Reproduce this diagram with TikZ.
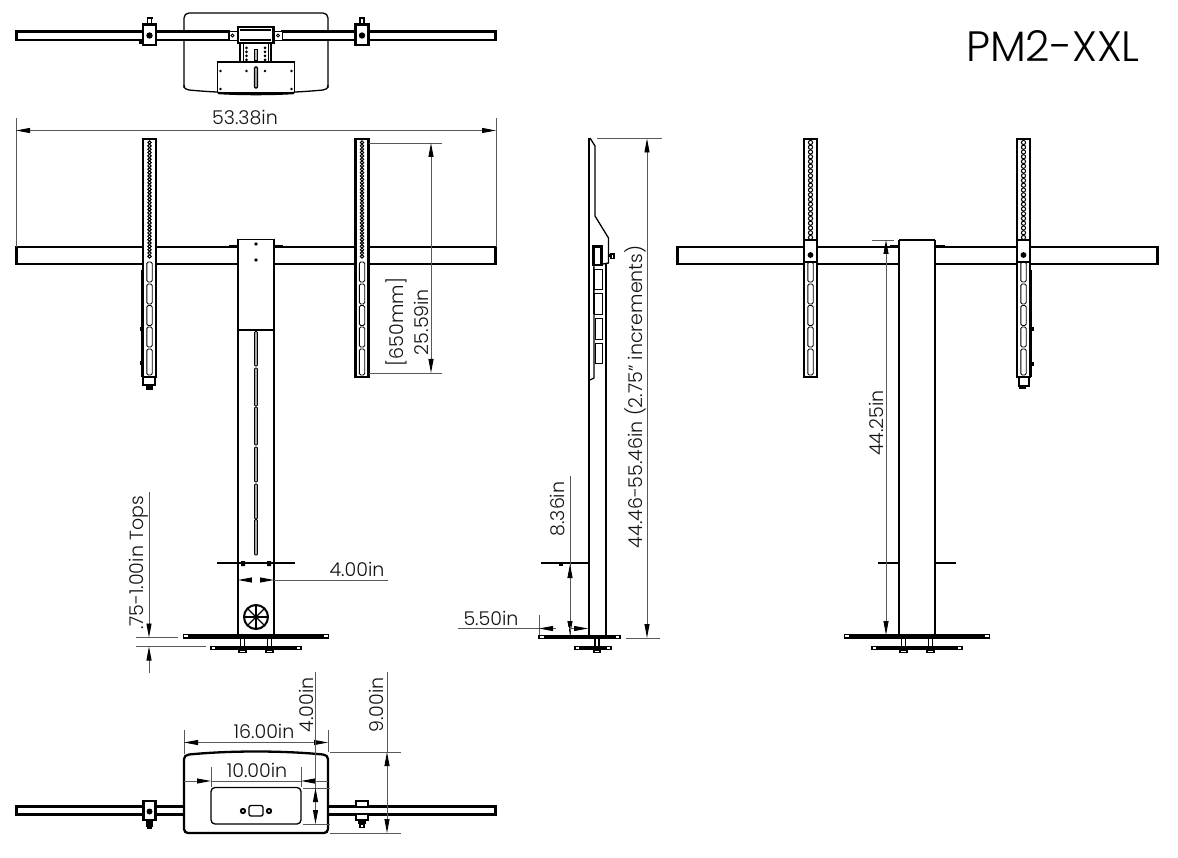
\documentclass[tikz,border=0pt]{standalone}
\usepackage{fontspec}
\setmainfont{Poppins}[UprightFont=* Light]
\usetikzlibrary{arrows.meta}
\tikzset{
  obj/.style={draw=black,line width=2.3pt},
  objm/.style={draw=black,line width=1.3pt},
  objt/.style={draw=black,line width=.9pt},
  dimline/.style={draw=black!65,line width=.9pt},
  dimarrow/.style={dimline,{Triangle[length=14pt,width=5pt,color=black]}-{Triangle[length=14pt,width=5pt,color=black]}},
  endarrow/.style={dimline,-{Triangle[length=14pt,width=5pt,color=black]}},
  lab/.style={inner sep=0pt,font=\fontsize{19pt}{21pt}\selectfont,text=black!92},
  vlab/.style={lab,rotate=90},
}
\newcommand{\pmRailBody}[1]{%
  \fill[white] (#1-6.5,139) rectangle (#1+6.5,377);
  \draw[obj] (#1-6.5,139) rectangle (#1+6.5,377);
  \foreach \a/\b in {262/282,284/304,305.5/325.5,327/347,349/375}{
    \draw[objt,rounded corners=1.5pt] (#1-2.7,\a) rectangle (#1+2.7,\b);}
}
\newcommand{\pmRailFront}[1]{%
  \pmRailBody{#1}
  \foreach \i in {0,...,34}{\draw[line width=1pt] (#1,{142.5+\i*3.35}) circle (1.7pt);}
}
\newcommand{\pmRailRear}[1]{%
  \pmRailBody{#1}
  \foreach \i in {0,...,20}{\draw[line width=1pt] (#1,{142.5+\i*4.75}) circle (2.1pt);}
  \fill[white] (#1-6.5,240) rectangle (#1+6.5,262);
  \draw[objm] (#1-6.5,240) rectangle (#1+6.5,262);
  \fill[black] (#1,255) circle (2.9pt);
}
\newcommand{\pmBase}[1]{% centred at x
  \draw[objm,fill=white] (#1-72.5,634.5) rectangle (#1+72.5,638);
  \fill[black] (#1-68,634.5) rectangle (#1+68,638);
  \draw[objm,fill=white] (#1-45,646.5) rectangle (#1+45,649.5);
  \fill[black] (#1-41,646.5) rectangle (#1+41,649.5);
  \foreach \d in {-13.5,13.5}{
    \draw[objm] (#1+\d-2.3,638.5) -- (#1+\d-2.3,646);
    \draw[objm] (#1+\d+2.3,638.5) -- (#1+\d+2.3,646);
    \draw[objm] (#1+\d-3.5,650) rectangle (#1+\d+3.5,652.5);
  }
}
\newcommand{\pmClampTop}[1]{%
  \draw[obj,fill=white] (#1-6.5,24.5) rectangle (#1+6.5,45);
  \fill[black] (#1,35.5) circle (3.2pt);
  \draw[objm,fill=white] (#1-2,18) rectangle (#1+2,24);
  \draw[line width=1.8pt] (#1-3,18) -- (#1+3,18);
}
\begin{document}
\begin{tikzpicture}[x=1pt,y=-1pt]
\useasboundingbox (0,0) rectangle (1178,858);
\fill[white] (0,0) rectangle (1178,858);

% ---------- title
\node[inner sep=0pt,font=\fontsize{42.5pt}{45pt}\selectfont,text=black] (title) at (1053,46) {PM2-XXL};

% ---------- top view
\draw[objm,rounded corners=5pt] (184,94) -- (184,13) -- (328,13) -- (328,94);
\fill[white] (183,88) rectangle (329,96);
\draw[objm] (189,90) .. controls (230,94) and (282,94) .. (323,90);
\draw[objm] (184,85) .. controls (184,88.5) and (186,89.7) .. (189,90);
\draw[objm] (328,85) .. controls (328,88.5) and (326,89.7) .. (323,90);
\draw[obj,fill=white] (16.5,31.5) rectangle (229,40);
\draw[obj,fill=white] (282,31.5) rectangle (495.5,40);
\draw[objt,fill=white] (229,31) rectangle (237.5,40.5);
\draw[objt,fill=white] (274,31) rectangle (282,40.5);
\draw[objt] (232.5,35.5) circle (1.5pt);
\draw[objt] (278,35.5) circle (1.5pt);
\draw[obj,fill=white] (238,27) rectangle (273.5,43);
\draw[objm] (240,30) -- (271,30);
\draw[objm] (240,40) -- (271,40);
\draw[objm] (240,43) rectangle (271,62);
\draw[objt] (243,43) -- (243,62) (268,43) -- (268,62);
\foreach \y in {48,52,56,60}{
  \fill[black] (246.5,\y) circle (1.5pt);
  \fill[black] (265,\y) circle (1.5pt);}
\draw[objm,fill=black!30] (254.5,49.5) rectangle (257.5,61);
\draw[objm,fill=white] (217.5,62) rectangle (294.5,92.5);
\draw[obj] (218,93) .. controls (240,94.5) and (272,94.5) .. (294,93);
\draw[objm,fill=black!30,rounded corners=1pt] (254.5,67) rectangle (257.5,88);
\foreach \p in {(220.5,71),(246.5,71),(265,71),(291.5,71),(220.5,89),(291.5,89)}{\fill[black] \p circle (1.4pt);}
\pmClampTop{149.5}
\pmClampTop{362}
\fill[black] (139,39) rectangle (143,44);

% ---------- front view
\draw[obj,fill=white] (16.5,247) rectangle (495.5,264);
\pmRailFront{149.5}
\pmRailFront{362}
\draw[objm] (142,270) -- (142,377);
\fill[black] (139.5,327) rectangle (142.5,331);
\fill[black] (139.5,361) rectangle (142.5,365);
\draw[objm,fill=white] (143,377) rectangle (155,385);
\draw[objm] (150,385) -- (150,390);
\fill[black] (146,386) rectangle (153,390);
\draw[obj] (229,246.5) -- (238,246.5) (274,246.5) -- (283,246.5);
\fill[white] (238,239) rectangle (274,635);
\draw[objm] (238,239.5) -- (274,239.5);
\draw[obj] (238,239) -- (238,635) (274,239) -- (274,635);
\draw[objm] (238,330) -- (274,330);
\fill[black] (256,244) circle (1.8pt) (256,260) circle (1.8pt);
\foreach \a/\b in {331.5/366,368/406,407/445,447/482,484/519,519.5/555}{
  \draw[objt,fill=black!35,rounded corners=1pt] (254.5,\a) rectangle (257.5,\b);}
\draw[obj] (217,563) -- (295,563);
\fill[black] (241,561) rectangle (245,566) (267,561) -- (271,561) -- (271,566) -- (267,566) -- cycle;
\draw[line width=2pt] (256,617) circle (12pt);
\foreach \t in {0,45,...,315}{\draw[line width=1.4pt] (256,617) -- ++(\t:11pt);}
\pmBase{256}

% dims front
\draw[dimline] (16,118) -- (16,247) (496,118) -- (496,247);
\draw[dimarrow] (16,130.5) -- (496,130.5);
\node[lab] (d5338) at (245,118) {53.38in};
\draw[dimline] (369,143) -- (442,143) (369,373) -- (442,373);
\draw[dimarrow] (431,143) -- (431,373);
\node[vlab] (d2559) at (421,322) {25.59in};
\node[vlab] (d650) at (396,322) {[650mm]};
\draw[dimline] (136,637.5) -- (178,637.5) (136,646.5) -- (206,646.5);
\draw[endarrow] (149,492) -- (149,637.5);
\draw[endarrow] (149,673) -- (149,646.5);
\node[vlab] (dtops) at (139,563) {.75-1.00in Tops};
\draw[dimline] (274,580) -- (388,580);
\draw[endarrow] (256,580) -- (274,580);
\draw[endarrow] (256,580) -- (238,580);
\fill[white] (252,578) rectangle (260,582);
\node[lab] (d400a) at (357,569) {4.00in};

% ---------- bottom view
\draw[obj] (16.5,806.5) rectangle (184,814.5);
\draw[obj] (328,806.5) rectangle (495.5,814.5);
\draw[obj,fill=white] (189,754.5) .. controls (230,750.5) and (282,750.5) .. (323,754.5)
   .. controls (326,754.8) and (328,756.5) .. (328,759) -- (328,829)
   .. controls (328,831.5) and (326,833) .. (324,833) -- (188,833)
   .. controls (186,833) and (184,831.5) .. (184,829) -- (184,759)
   .. controls (184,756.5) and (186,754.8) .. (189,754.5) -- cycle;
\draw[objm,rounded corners=4pt] (211,787.5) rectangle (301,824);
\draw[objm,rounded corners=2pt] (249,805.5) rectangle (263,816);
\fill[black] (243,811) circle (3.2pt) (269,811) circle (3.2pt);
\fill[white] (243,811) circle (1.1pt) (269,811) circle (1.1pt);
\draw[obj,fill=white] (143.5,801) rectangle (155.5,820);
\fill[black] (149.5,811.5) circle (3pt);
\fill[black] (146,820) rectangle (153,827);
\draw[objm,fill=white] (147.5,827) rectangle (151.5,828);
\draw[obj,fill=white] (356,801) rectangle (368,807);
\draw[obj,fill=white] (356,814) rectangle (368,820);
\fill[black] (358,820) rectangle (366,824);
\draw[objm,fill=white] (360,824) rectangle (364,827.5);
% dims bottom
\draw[dimline] (184,730) -- (184,754) (328,730) -- (328,752);
\draw[dimarrow] (184,742.5) -- (328,742.5);
\node[lab] (d1600) at (264,731) {16.00in};
\draw[dimline] (211,767) -- (211,787) (301,767) -- (301,787);
\draw[dimline] (211,781) -- (301,781);
\draw[endarrow] (184,781) -- (211,781);
\draw[endarrow] (328,781) -- (301,781);
\node[lab] (d1000) at (257,770) {10.00in};
\draw[dimline] (303,788) -- (330,788) (303,824) -- (330,824);
\draw[endarrow] (315.5,806) -- (315.5,788);
\draw[dimline] (315.5,788) -- (315.5,672);
\draw[endarrow] (315.5,806) -- (315.5,824);
\node[vlab] (d400b) at (306,705) {4.00in};
\draw[dimline] (330,752) -- (401,752) (330,833) -- (401,833);
\draw[dimline] (387,672) -- (387,752);
\draw[dimarrow] (387,752) -- (387,833);
\node[vlab] (d900) at (376,705) {9.00in};

% ---------- side view
\draw[line width=2.4pt] (589,138) -- (589,635);
\draw[objm] (590,138) -- (595,146) -- (595,216) -- (608.5,238) -- (608.5,263) -- (603,264);
\draw[objm] (594,265) -- (594,378) -- (590,380);
\draw[obj] (606,263) -- (606,635);
\draw[line width=2.5pt] (593.5,246.5) rectangle (601.5,265);
\draw[objt] (594,269) rectangle (602,289);
\draw[objt] (594,293) rectangle (602,314);
\draw[line width=1.8pt] (593.5,267) -- (593.5,314);
\draw[objt] (595,318) rectangle (602,339);
\draw[objt] (595,343) rectangle (602,363);
\fill[black] (609,254.5) rectangle (611,257);
\draw[objm,fill=white] (611,254) rectangle (614,258.5);
\draw[obj] (541,563) -- (589,563);
\fill[black] (559,563) rectangle (563,566);
\draw[line width=2.8pt] (589,605) -- (589,632);
\draw[objm,fill=white] (539,635.5) rectangle (620,638.5);
\fill[black] (544,635.5) rectangle (616,638.5);
\draw[objm,fill=white] (575,646.5) rectangle (611,649.5);
\fill[black] (579,646.5) rectangle (607,649.5);
\draw[objm] (595,638.5) -- (595,646) (599,638.5) -- (599,646);
\draw[objm] (594,650) rectangle (600,652.5);
% dims side
\draw[dimline] (597,138.5) -- (662,138.5);
\draw[dimline] (626,638) -- (660,638);
\draw[dimarrow] (647,138.5) -- (647,638);
\node[vlab] (d4446) at (635,397) {44.46-55.46in (2.75" increments)};
\draw[dimline] (570,476) -- (570,635);
\draw[endarrow] (570,600) -- (570,564);
\draw[endarrow] (570,600) -- (570,635);
\node[vlab] (d836) at (558,509) {8.36in};
\draw[dimline] (539,615) -- (539,635);
\draw[dimline] (458,628.5) -- (539,628.5);
\draw[endarrow] (562,628.5) -- (539,628.5);
\draw[endarrow] (562,628.5) -- (588,628.5);
\fill[white] (556,626.5) rectangle (569,630.5);
\draw[dimline] (570,626) -- (570,631);
\node[lab] (d550) at (491,618) {5.50in};

% ---------- rear view
\draw[obj,fill=white] (677.5,247) rectangle (1157.5,264);
\pmRailRear{810.5}
\pmRailRear{1023.5}
\draw[objm] (1031.5,270) -- (1031.5,377);
\fill[black] (1030,327) rectangle (1034,331);
\fill[black] (1030,362) rectangle (1034,366);
\draw[objm,fill=white] (1019,377) rectangle (1029,386);
\fill[black] (1019,385) rectangle (1026,389);
\draw[obj] (890,246.5) -- (899,246.5) (935,246.5) -- (945,246.5);
\fill[white] (899,240) rectangle (935,635);
\draw[objm] (899,240) -- (935,240);
\draw[obj] (899,240) -- (899,635) (935,240) -- (935,635);
\draw[obj] (878,563) -- (899,563) (935,563) -- (956,563);
\pmBase{917}
\draw[dimline] (872,240) -- (894,240);
\draw[dimarrow] (886,240) -- (886,635);
\node[vlab] (d4425) at (876,423) {44.25in};
\end{tikzpicture}
\end{document}
